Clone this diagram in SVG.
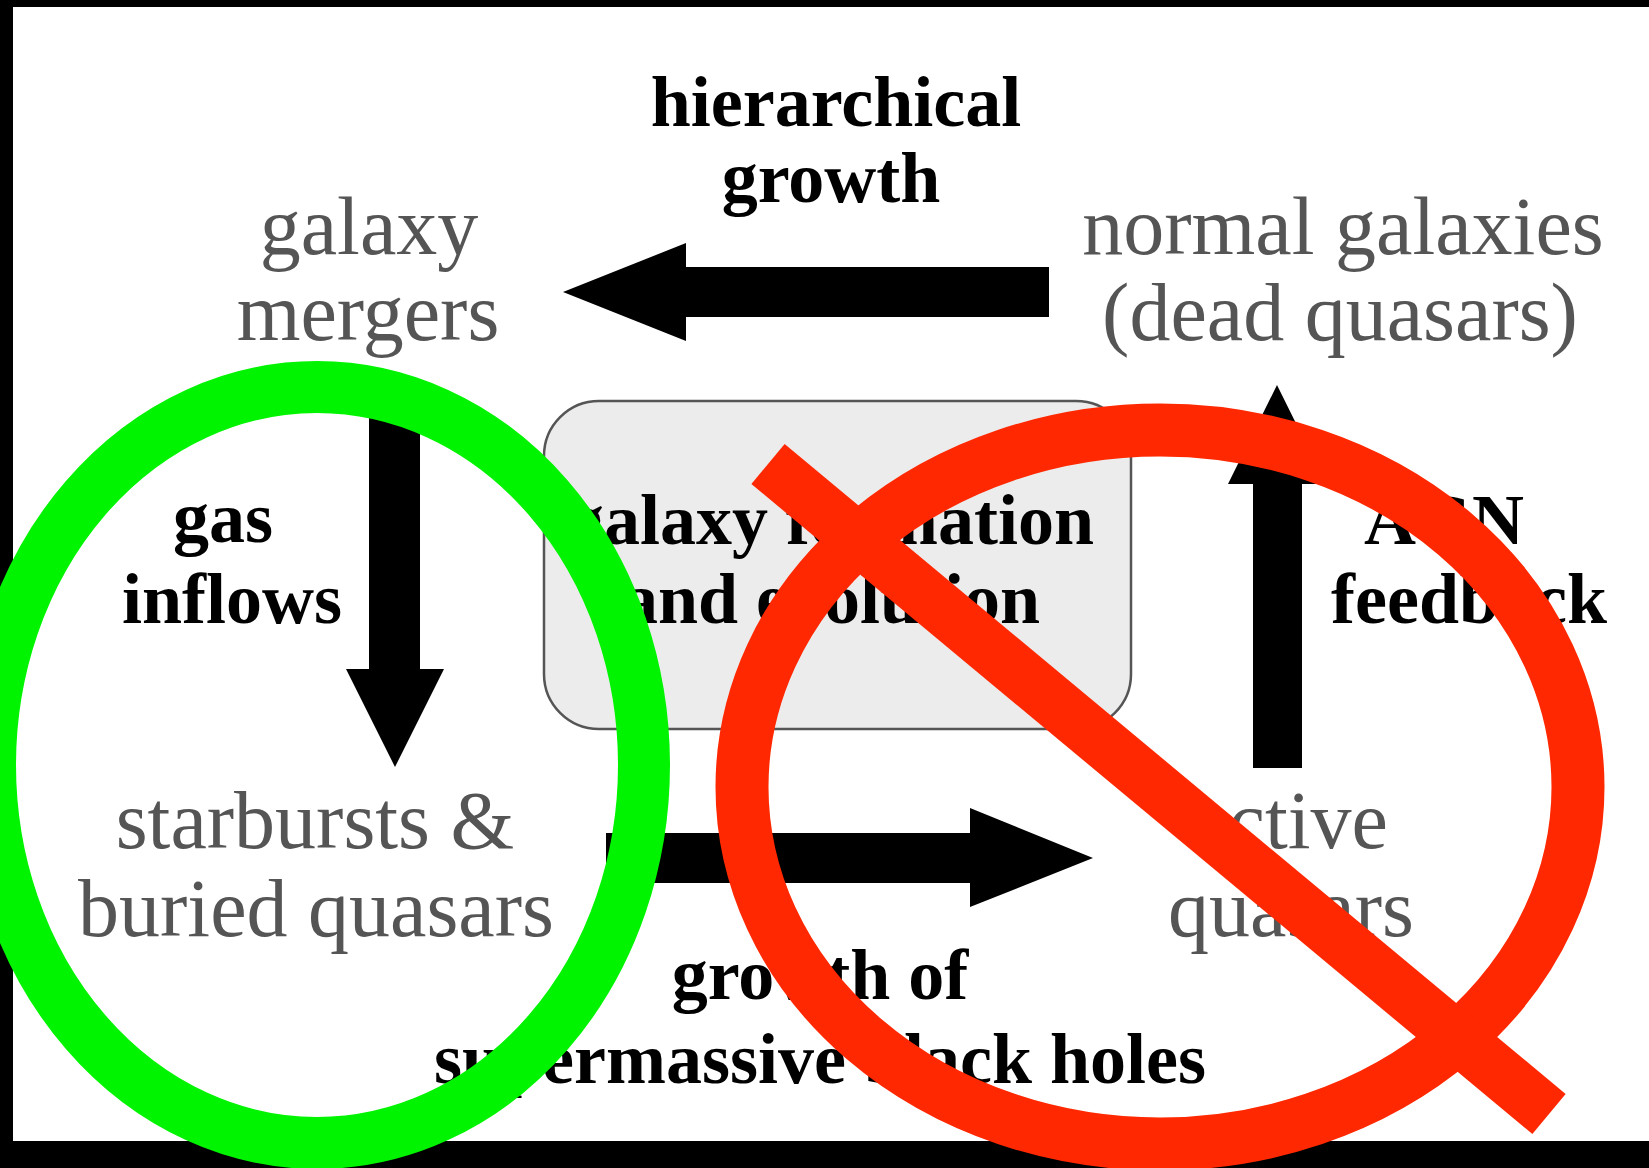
<svg xmlns="http://www.w3.org/2000/svg" width="1649" height="1168" viewBox="0 0 1649 1168">
  <style>
    .lbl { font-family: "Liberation Serif", "Times New Roman", serif; font-weight: bold; font-size: 72px; fill: #000; text-anchor: middle; }
    .node { font-family: "Liberation Serif", "Times New Roman", serif; font-size: 82px; fill: #555; text-anchor: middle; }
    .arrow { fill: #000; }
    .mark { fill: none; }
  </style>
  <rect x="0" y="0" width="1649" height="1168" fill="#000"/>
  <rect x="13" y="7" width="1636" height="1134" fill="#fff"/>

  <g id="center-box">
    <rect x="544" y="401" width="587" height="328" rx="55" ry="55" fill="#ececec" stroke="#555" stroke-width="2.5"/>
    <text class="lbl" x="831" y="544">galaxy formation</text>
    <text class="lbl" x="831" y="623">and evolution</text>
  </g>

  <g id="galaxy-mergers">
    <text class="node" x="369" y="254">galaxy</text>
    <text class="node" x="368" y="340">mergers</text>
  </g>
  <g id="normal-galaxies">
    <text class="node" x="1343" y="254">normal galaxies</text>
    <text class="node" x="1340" y="340">(dead quasars)</text>
  </g>
  <g id="starbursts">
    <text class="node" x="315" y="848">starbursts &amp;</text>
    <text class="node" x="316" y="936">buried quasars</text>
  </g>
  <g id="active-quasars">
    <text class="node" x="1290" y="848">active</text>
    <text class="node" x="1291" y="936">quasars</text>
  </g>

  <g id="connectors">
    <g id="hierarchical-growth">
      <polygon class="arrow" points="1049,267 686,267 686,243 563,292 686,341 686,317 1049,317"/>
      <text class="lbl" x="836" y="126">hierarchical</text>
      <text class="lbl" x="831" y="202">growth</text>
    </g>
    <g id="gas-inflows">
      <polygon class="arrow" points="369,415 420,415 420,669 444,669 395,767 346,669 369,669"/>
      <text class="lbl" x="223" y="542">gas</text>
      <text class="lbl" x="232" y="623">inflows</text>
    </g>
    <g id="growth-smbh">
      <polygon class="arrow" points="606,833 970,833 970,808 1093,858 970,907 970,883 606,883"/>
      <text class="lbl" x="820" y="999">growth of</text>
      <text class="lbl" x="820" y="1083">supermassive black holes</text>
    </g>
    <g id="agn-feedback">
      <polygon class="arrow" points="1253,768 1253,484 1228,484 1277,385 1326,484 1302,484 1302,768"/>
      <text class="lbl" x="1444" y="544">AGN</text>
      <text class="lbl" x="1469" y="623">feedback</text>
    </g>
  </g>

  <g id="annotations">
    <ellipse class="mark" cx="317" cy="765" rx="327" ry="378" stroke="#00f400" stroke-width="52"/>
    <ellipse class="mark" cx="1160" cy="787" rx="418" ry="357" stroke="#ff2800" stroke-width="53"/>
    <line x1="768" y1="464" x2="1549" y2="1114" stroke="#ff2800" stroke-width="52"/>
  </g>
</svg>
